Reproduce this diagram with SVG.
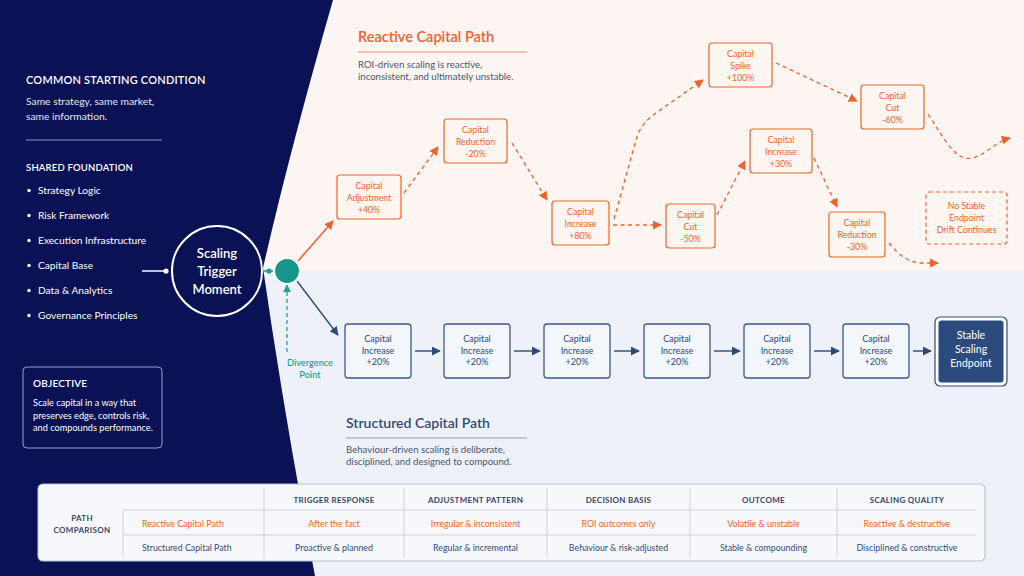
<svg xmlns="http://www.w3.org/2000/svg" width="1024" height="576" viewBox="0 0 1024 576">
<defs>
<marker id="mo" viewBox="0 0 10 10" refX="9" refY="5" markerWidth="9" markerHeight="9" markerUnits="userSpaceOnUse" orient="auto"><path d="M0,0 L10,5 L0,10 Z" fill="#F0622D"/></marker>
<marker id="mn" viewBox="0 0 10 10" refX="9" refY="5" markerWidth="9" markerHeight="9" markerUnits="userSpaceOnUse" orient="auto"><path d="M0,0 L10,5 L0,10 Z" fill="#2E4A7D"/></marker>
<marker id="mt" viewBox="0 0 10 10" refX="9" refY="5" markerWidth="8" markerHeight="8" markerUnits="userSpaceOnUse" orient="auto"><path d="M0,0 L10,5 L0,10 Z" fill="#1BA39A"/></marker>
</defs>
<style>
text{font-family:Lato,"Liberation Sans",sans-serif}
.lt{fill:#E4E6F0;font-size:10.3px}
.hd{fill:#FFFFFF;font-size:11px;font-weight:600;letter-spacing:0.2px}
.sh{fill:#FFFFFF;font-size:9.5px;font-weight:600;letter-spacing:0.2px}
.bl{fill:#FFFFFF;font-size:10.2px}
.rb rect{fill:#FEF6F1;stroke:#F0622D;stroke-width:1.2}
.rb text{fill:#F0622D;font-size:8.8px;text-anchor:middle}
.sb rect{fill:#F3F6FA;stroke:#3B5A8E;stroke-width:1.3}
.sb text{fill:#2E4A7D;font-size:9px;text-anchor:middle}
.od{fill:none;stroke:#F0622D;stroke-width:1.3;stroke-dasharray:4 3.5;marker-end:url(#mo)}
.ns{fill:none;stroke:#2E4A7D;stroke-width:1.4;marker-end:url(#mn)}
.sub{fill:#4A5570;font-size:9.6px}
.th{fill:#3A4566;font-size:8px;font-weight:700;letter-spacing:0.3px;text-anchor:middle}
.tr{fill:#F0622D;font-size:8.8px;text-anchor:middle}
.ts{fill:#2E4A7D;font-size:8.8px;text-anchor:middle}
.tl{stroke:#C9CEDA;stroke-width:0.9}
</style>
<!-- backgrounds -->
<rect x="0" y="0" width="1024" height="272" fill="#FDF6F2"/>
<rect x="0" y="271" width="1024" height="305" fill="#EEF2F8"/>
<path d="M0,0 L333,0 Q290,150 263,268 Q285,420 315,576 L0,576 Z" fill="#0A1155"/>

<!-- left panel -->
<g id="starting-condition">
<text class="hd" x="26" y="84">COMMON STARTING CONDITION</text>
<text class="lt" x="26" y="105">Same strategy, same market,</text>
<text class="lt" x="26" y="120">same information.</text>
<line x1="26" y1="140" x2="162" y2="140" stroke="#8E93B8" stroke-width="1.2"/>
</g>
<g id="shared-foundation">
<text class="sh" x="26" y="171">SHARED FOUNDATION</text>
<g fill="#FFFFFF">
<circle cx="29" cy="190.5" r="1.7"/><circle cx="29" cy="215.5" r="1.7"/><circle cx="29" cy="240.5" r="1.7"/>
<circle cx="29" cy="265.5" r="1.7"/><circle cx="29" cy="290.5" r="1.7"/><circle cx="29" cy="315.5" r="1.7"/>
</g>
<text class="bl" x="38" y="194">Strategy Logic</text>
<text class="bl" x="38" y="219">Risk Framework</text>
<text class="bl" x="38" y="244">Execution Infrastructure</text>
<text class="bl" x="38" y="269">Capital Base</text>
<text class="bl" x="38" y="294">Data &amp; Analytics</text>
<text class="bl" x="38" y="319">Governance Principles</text>
</g>
<g id="objective">
<rect x="23" y="367" width="139" height="81" rx="4" fill="none" stroke="#9CA1C4" stroke-width="1"/>
<text class="sh" x="33" y="387" style="font-size:10px">OBJECTIVE</text>
<text x="33" y="406" fill="#FFFFFF" font-size="9.2">Scale capital in a way that</text>
<text x="33" y="418.5" fill="#FFFFFF" font-size="9.2">preserves edge, controls risk,</text>
<text x="33" y="431" fill="#FFFFFF" font-size="9.2">and compounds performance.</text>
</g>

<!-- connectors -->
<g id="connectors">
<line x1="142" y1="271" x2="166" y2="271" stroke="#FFFFFF" stroke-width="1.5"/>
<circle cx="166" cy="271" r="2.6" fill="#FFFFFF"/>
<line x1="262" y1="271" x2="276" y2="271" stroke="#1A9E8F" stroke-width="1.5"/>
<circle cx="269" cy="271" r="2.6" fill="#1A9E8F"/>
<line x1="298" y1="261" x2="333" y2="221" stroke="#F0622D" stroke-width="1.5" marker-end="url(#mo)"/>
<line x1="297" y1="281" x2="338" y2="335" stroke="#2E4A7D" stroke-width="1.4" marker-end="url(#mn)"/>
<line x1="287" y1="352" x2="287" y2="285" stroke="#1BA39A" stroke-width="1.3" stroke-dasharray="4 3" marker-end="url(#mt)"/>
<!-- reactive -->
<path class="od" d="M404,193 L438,147"/>
<path class="od" d="M512,143 L547,200"/>
<path class="od" d="M613,225 L661,225"/>
<path class="od" d="M614,219 L636,140 Q640,124 656,113 L703,80"/>
<path class="od" d="M776,63 L857,101"/>
<path class="od" d="M717,215 L745,161"/>
<path class="od" d="M814,158 L837,207"/>
<path class="od" d="M928,114 C945,140 956,162 972,158 C986,155 995,142 1010,138"/>
<path class="od" d="M889,243 Q904,262 920,263 L938,263"/>
<!-- structured -->
<path class="ns" d="M415,351 L440,351"/>
<path class="ns" d="M514,351 L540,351"/>
<path class="ns" d="M614,351 L639,351"/>
<path class="ns" d="M714,351 L740,351"/>
<path class="ns" d="M814,351 L839,351"/>
<path class="ns" d="M913,351 L931,351"/>
</g>

<g id="trigger">
<circle cx="217" cy="271" r="45" fill="#0A1155" stroke="#FFFFFF" stroke-width="2"/>
<text x="217" y="258" fill="#FFFFFF" font-size="13" font-weight="600" text-anchor="middle">Scaling</text>
<text x="217" y="276" fill="#FFFFFF" font-size="13" font-weight="600" text-anchor="middle">Trigger</text>
<text x="217" y="294" fill="#FFFFFF" font-size="13" font-weight="600" text-anchor="middle">Moment</text>
</g>
<g id="divergence">
<circle cx="287" cy="271" r="13" fill="#16978A" stroke="#FFFFFF" stroke-width="2.2"/>
<text x="310" y="366" fill="#1BA39A" font-size="9.2" font-weight="600" text-anchor="middle">Divergence</text>
<text x="310" y="378" fill="#1BA39A" font-size="9.2" font-weight="600" text-anchor="middle">Point</text>
</g>

<!-- reactive header -->
<g id="reactive-title">
<text x="358" y="42" fill="#F0622D" font-size="14.5" font-weight="600">Reactive Capital Path</text>
<line x1="358" y1="52" x2="527" y2="52" stroke="#F4906A" stroke-width="1.2"/>
<text class="sub" x="358" y="68">ROI-driven scaling is reactive,</text>
<text class="sub" x="358" y="80">inconsistent, and ultimately unstable.</text>
</g>

<g id="r-adjust40" class="rb"><rect x="337" y="175" width="64" height="44" rx="3"/><text x="369" y="189">Capital</text><text x="369" y="201">Adjustment</text><text x="369" y="213">+40%</text></g>
<g id="r-reduce20" class="rb"><rect x="444" y="119" width="63" height="44" rx="3"/><text x="475.5" y="133">Capital</text><text x="475.5" y="145">Reduction</text><text x="475.5" y="157">-20%</text></g>
<g id="r-increase80" class="rb"><rect x="552" y="201" width="57" height="44" rx="3"/><text x="580.5" y="215">Capital</text><text x="580.5" y="227">Increase</text><text x="580.5" y="239">+80%</text></g>
<g id="r-cut50" class="rb"><rect x="666" y="204" width="49" height="44" rx="3"/><text x="690.5" y="218">Capital</text><text x="690.5" y="230">Cut</text><text x="690.5" y="242">-50%</text></g>
<g id="r-spike100" class="rb"><rect x="709" y="43" width="63" height="44" rx="3"/><text x="740.5" y="57">Capital</text><text x="740.5" y="69">Spike</text><text x="740.5" y="81">+100%</text></g>
<g id="r-cut60" class="rb"><rect x="861" y="85" width="63" height="44" rx="3"/><text x="892.5" y="99">Capital</text><text x="892.5" y="111">Cut</text><text x="892.5" y="123">-60%</text></g>
<g id="r-increase30" class="rb"><rect x="750" y="129" width="62" height="44" rx="3"/><text x="781" y="143">Capital</text><text x="781" y="155">Increase</text><text x="781" y="167">+30%</text></g>
<g id="r-reduce30" class="rb"><rect x="829" y="212" width="56" height="45" rx="3"/><text x="857" y="226">Capital</text><text x="857" y="238">Reduction</text><text x="857" y="250">-30%</text></g>
<g id="r-nostable" class="rb"><rect x="926" y="192" width="81" height="52" rx="3" style="stroke-dasharray:4 3"/><text x="966.5" y="209">No Stable</text><text x="966.5" y="221">Endpoint</text><text x="966.5" y="233">Drift Continues</text></g>

<!-- structured -->
<g id="s-box1" class="sb"><rect x="345" y="324" width="66" height="54" rx="3"/><text x="378" y="342">Capital</text><text x="378" y="354">Increase</text><text x="378" y="365">+20%</text></g>
<g id="s-box2" class="sb"><rect x="444" y="324" width="66" height="54" rx="3"/><text x="477" y="342">Capital</text><text x="477" y="354">Increase</text><text x="477" y="365">+20%</text></g>
<g id="s-box3" class="sb"><rect x="544" y="324" width="66" height="54" rx="3"/><text x="577" y="342">Capital</text><text x="577" y="354">Increase</text><text x="577" y="365">+20%</text></g>
<g id="s-box4" class="sb"><rect x="644" y="324" width="66" height="54" rx="3"/><text x="677" y="342">Capital</text><text x="677" y="354">Increase</text><text x="677" y="365">+20%</text></g>
<g id="s-box5" class="sb"><rect x="744" y="324" width="66" height="54" rx="3"/><text x="777" y="342">Capital</text><text x="777" y="354">Increase</text><text x="777" y="365">+20%</text></g>
<g id="s-box6" class="sb"><rect x="843" y="324" width="66" height="54" rx="3"/><text x="876" y="342">Capital</text><text x="876" y="354">Increase</text><text x="876" y="365">+20%</text></g>
<g id="s-endpoint">
<rect x="935" y="317" width="72" height="69" rx="5" fill="#FFFFFF" stroke="#2E4A7D" stroke-width="1.2"/>
<rect x="938.5" y="320.5" width="65" height="62" rx="3" fill="#2B4A7E"/>
<text x="971" y="339" fill="#FFFFFF" font-size="10.5" text-anchor="middle">Stable</text>
<text x="971" y="353" fill="#FFFFFF" font-size="10.5" text-anchor="middle">Scaling</text>
<text x="971" y="367" fill="#FFFFFF" font-size="10.5" text-anchor="middle">Endpoint</text>
</g>
<g id="structured-title">
<text x="346" y="428" fill="#2E4A7D" font-size="14" font-weight="600">Structured Capital Path</text>
<line x1="346" y1="438" x2="527" y2="438" stroke="#8A9CC0" stroke-width="1.2"/>
<text class="sub" x="346" y="453">Behaviour-driven scaling is deliberate,</text>
<text class="sub" x="346" y="465">disciplined, and designed to compound.</text>
</g>

<!-- table -->
<g id="comparison-table">
<rect x="38" y="484" width="947" height="77" rx="5" fill="#F7F8FB" stroke="#B9BFCD" stroke-width="1.1"/>
<line class="tl" x1="264" y1="488" x2="264" y2="558"/>
<line class="tl" x1="404" y1="488" x2="404" y2="558"/>
<line class="tl" x1="547" y1="488" x2="547" y2="558"/>
<line class="tl" x1="690" y1="488" x2="690" y2="558"/>
<line class="tl" x1="837" y1="488" x2="837" y2="558"/>
<line class="tl" x1="123" y1="510" x2="123" y2="558"/>
<line class="tl" x1="123" y1="510" x2="977" y2="510"/>
<line class="tl" x1="123" y1="535" x2="977" y2="535"/>
<text class="th" x="82" y="521">PATH</text>
<text class="th" x="82" y="533">COMPARISON</text>
<text class="th" x="334" y="503">TRIGGER RESPONSE</text>
<text class="th" x="475.5" y="503">ADJUSTMENT PATTERN</text>
<text class="th" x="618.5" y="503">DECISION BASIS</text>
<text class="th" x="763.5" y="503">OUTCOME</text>
<text class="th" x="907" y="503">SCALING QUALITY</text>
<text class="tr" x="142" y="527" style="text-anchor:start">Reactive Capital Path</text>
<text class="tr" x="334" y="527">After the fact</text>
<text class="tr" x="475.5" y="527">Irregular &amp; inconsistent</text>
<text class="tr" x="618.5" y="527">ROI outcomes only</text>
<text class="tr" x="763.5" y="527">Volatile &amp; unstable</text>
<text class="tr" x="907" y="527">Reactive &amp; destructive</text>
<text class="ts" x="142" y="551" style="text-anchor:start">Structured Capital Path</text>
<text class="ts" x="334" y="551">Proactive &amp; planned</text>
<text class="ts" x="475.5" y="551">Regular &amp; incremental</text>
<text class="ts" x="618.5" y="551">Behaviour &amp; risk-adjusted</text>
<text class="ts" x="763.5" y="551">Stable &amp; compounding</text>
<text class="ts" x="907" y="551">Disciplined &amp; constructive</text>
</g>
</svg>
